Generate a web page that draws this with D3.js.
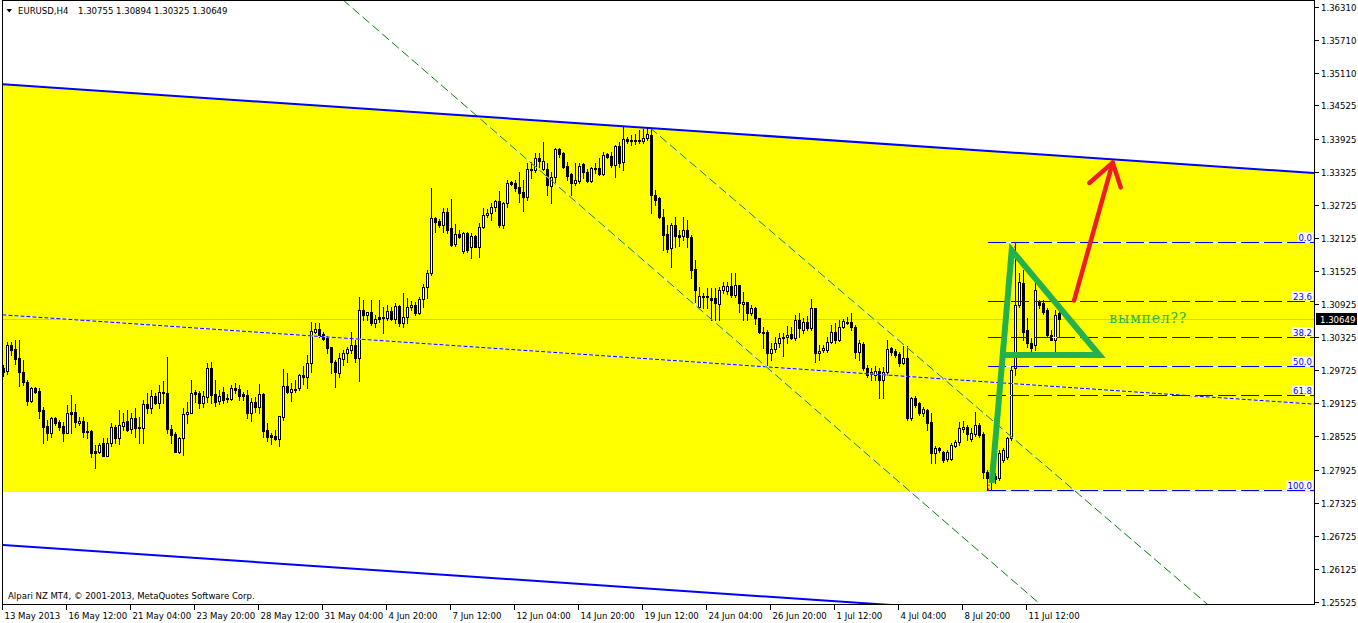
<!DOCTYPE html>
<html><head><meta charset="utf-8">
<script src="https://cdn.jsdelivr.net/npm/d3@7"></script>
<style>
html,body{margin:0;padding:0;background:#fff;}
svg{display:block;}
text{font-family:"DejaVu Sans Condensed","Liberation Sans",Tahoma,sans-serif;font-size:9.5px;}
</style></head><body>
<svg id="c" width="1358" height="623"></svg>
<script>
// ---- data (EURUSD H4) ----
const opens=[
1.2977,1.2971,1.3018,1.3011,1.2995,1.2969,1.2951,1.2917,1.2940,1.2935,
1.2901,1.2872,1.2859,1.2886,1.2879,1.2872,1.2859,1.2897,1.2897,1.2877,
1.2881,1.2862,1.2862,1.2826,1.2824,1.2841,1.2817,1.2841,1.2870,1.2850,
1.2872,1.2881,1.2866,1.2886,1.2870,1.2868,1.2911,1.2904,1.2926,1.2913,
1.2931,1.2931,1.2866,1.2857,1.2824,1.2850,1.2893,1.2895,1.2933,1.2931,
1.2913,1.2924,1.2977,1.2929,1.2917,1.2933,1.2922,1.2920,1.2940,1.2938,
1.2929,1.2928,1.2895,1.2915,1.2906,1.2929,1.2864,1.2855,1.2853,1.2848,
1.2888,1.2944,1.2933,1.2938,1.2940,1.2964,1.2960,1.2986,1.3042,1.3047,
1.3038,1.3031,1.3015,1.2987,1.2968,1.2993,1.3004,1.3009,1.3018,1.2995,
1.3082,1.3073,1.3078,1.3058,1.3069,1.3069,1.3067,1.3080,1.3065,1.3089,
1.3058,1.3069,1.3087,1.3091,1.3076,1.3102,1.3123,1.3149,1.3249,1.3243,
1.3236,1.3259,1.3230,1.3201,1.3220,1.3189,1.3221,1.3196,1.3216,1.3196,
1.3232,1.3254,1.3258,1.3268,1.3279,1.3236,1.3276,1.3314,1.3312,1.3305,
1.3296,1.3287,1.3336,1.3336,1.3357,1.3337,1.3337,1.3307,1.3323,1.3374,
1.3366,1.3343,1.3328,1.3312,1.3316,1.3346,1.3332,1.3316,1.3339,1.3339,
1.3328,1.3365,1.3361,1.3345,1.3379,1.3350,1.3392,1.3390,1.3390,1.3390,
1.3388,1.3394,1.3399,1.3290,1.3285,1.3250,1.3220,1.3194,1.3236,1.3218,
1.3216,1.3227,1.3214,1.3156,1.3087,1.3107,1.3105,1.3104,1.3104,1.3093,
1.3118,1.3116,1.3125,1.3109,1.3127,1.3093,1.3096,1.3076,1.3085,1.3067,
1.3042,1.3042,1.3004,1.3011,1.3022,1.3031,1.3033,1.3038,1.3031,1.3064,
1.3046,1.3060,1.3049,1.3085,1.3004,1.3009,1.3009,1.3024,1.3042,1.3027,
1.3051,1.3060,1.3060,1.3051,1.3006,1.3020,1.2977,1.2966,1.2964,1.2971,
1.2955,1.2969,1.3013,1.3007,1.3002,1.2986,1.2995,1.2886,1.2922,1.2913,
1.2895,1.2901,1.2879,1.2823,1.2832,1.2824,1.2812,1.2812,1.2835,1.2842,
1.2866,1.2870,1.2848,1.2857,1.2873,1.2857,1.2788,1.2774,1.2780,1.2777,
1.2810,1.2815,1.2850,1.2977,1.3091,1.3131,1.3046,1.3022,1.3018,1.3096,
1.3095,1.3082,1.3036,1.3027,1.30755];
const highs=[
1.2982,1.3024,1.3024,1.3027,1.3027,1.2991,1.2955,1.2942,1.2942,1.2940,
1.2906,1.2882,1.2888,1.2888,1.2882,1.2879,1.2910,1.2928,1.2911,1.2888,
1.2888,1.2879,1.2864,1.2837,1.2841,1.2850,1.2850,1.2877,1.2873,1.2901,
1.2895,1.2901,1.2895,1.2904,1.2888,1.2919,1.2931,1.2937,1.2931,1.2946,
1.2953,1.2997,1.2873,1.2861,1.2852,1.2904,1.2915,1.2955,1.2937,1.2935,
1.2935,1.2986,1.2988,1.2955,1.2937,1.2942,1.2929,1.2946,1.2949,1.2946,
1.2933,1.2937,1.2922,1.2924,1.2948,1.2931,1.2877,1.2859,1.2864,1.2890,
1.2975,1.2968,1.2949,1.2955,1.2966,1.2980,1.3000,1.3060,1.3058,1.3058,
1.3042,1.3035,1.3015,1.2991,1.3004,1.3009,1.3015,1.3042,1.3027,1.3105,
1.3100,1.3078,1.3100,1.3073,1.3100,1.3087,1.3091,1.3087,1.3095,1.3091,
1.3113,1.3104,1.3098,1.3096,1.3105,1.3129,1.3154,1.3303,1.3250,1.3247,
1.3267,1.3267,1.3283,1.3238,1.3227,1.3223,1.3223,1.3221,1.3218,1.3240,
1.3267,1.3265,1.3276,1.3281,1.3297,1.3278,1.3317,1.3316,1.3317,1.3332,
1.3317,1.3348,1.3350,1.3366,1.3366,1.3386,1.3348,1.3332,1.3375,1.3375,
1.3368,1.3350,1.3330,1.3348,1.3348,1.3348,1.3337,1.3341,1.3348,1.3357,
1.3368,1.3366,1.3368,1.3381,1.3386,1.3413,1.3395,1.3399,1.3401,1.3408,
1.3410,1.3412,1.3412,1.3299,1.3287,1.3265,1.3236,1.3240,1.3250,1.3227,
1.3250,1.3245,1.3218,1.3172,1.3123,1.3113,1.3122,1.3122,1.3122,1.3123,
1.3133,1.3133,1.3149,1.3149,1.3127,1.3114,1.3096,1.3091,1.3087,1.3067,
1.3051,1.3046,1.3022,1.3033,1.3040,1.3040,1.3053,1.3051,1.3073,1.3076,
1.3067,1.3071,1.3102,1.3085,1.3018,1.3018,1.3033,1.3055,1.3058,1.3064,
1.3065,1.3069,1.3076,1.3055,1.3027,1.3024,1.2982,1.2977,1.2980,1.2977,
1.2978,1.3027,1.3015,1.3011,1.3006,1.3016,1.3016,1.2924,1.2926,1.2915,
1.2906,1.2902,1.2895,1.2835,1.2833,1.2826,1.2828,1.2841,1.2846,1.2879,
1.2881,1.2873,1.2868,1.2897,1.2877,1.2861,1.2792,1.2795,1.2786,1.2828,
1.2832,1.2852,1.2980,1.3205,1.3149,1.3154,1.3067,1.3031,1.3131,1.3100,
1.3100,1.3085,1.3046,1.3082,1.30894];
const lows=[
1.2962,1.2966,1.3000,1.2984,1.2944,1.2946,1.2910,1.2915,1.2931,1.2886,
1.2841,1.2846,1.2852,1.2873,1.2864,1.2844,1.2859,1.2859,1.2870,1.2873,
1.2852,1.2850,1.2815,1.2795,1.2823,1.2817,1.2817,1.2835,1.2841,1.2839,
1.2864,1.2862,1.2859,1.2852,1.2841,1.2841,1.2895,1.2895,1.2911,1.2904,
1.2913,1.2859,1.2841,1.2824,1.2823,1.2819,1.2877,1.2895,1.2915,1.2904,
1.2906,1.2915,1.2913,1.2908,1.2911,1.2913,1.2915,1.2919,1.2931,1.2919,
1.2919,1.2886,1.2881,1.2897,1.2895,1.2852,1.2844,1.2839,1.2846,1.2835,
1.2882,1.2931,1.2917,1.2933,1.2937,1.2948,1.2940,1.2969,1.3040,1.3033,
1.3027,1.3004,1.2968,1.2942,1.2960,1.2982,1.2987,1.3004,1.2987,1.2953,
1.3064,1.3064,1.3055,1.3051,1.3060,1.3040,1.3064,1.3064,1.3058,1.3053,
1.3051,1.3058,1.3082,1.3073,1.3074,1.3087,1.3104,1.3145,1.3223,1.3232,
1.3223,1.3221,1.3198,1.3198,1.3212,1.3185,1.3187,1.3176,1.3196,1.3178,
1.3230,1.3250,1.3245,1.3261,1.3232,1.3230,1.3268,1.3308,1.3297,1.3278,
1.3261,1.3281,1.3321,1.3332,1.3341,1.3336,1.3290,1.3276,1.3314,1.3359,
1.3339,1.3317,1.3290,1.3308,1.3312,1.3321,1.3314,1.3314,1.3330,1.3326,
1.3326,1.3357,1.3341,1.3323,1.3341,1.3336,1.3384,1.3381,1.3383,1.3384,
1.3384,1.3390,1.3258,1.3272,1.3249,1.3191,1.3187,1.3160,1.3196,1.3198,
1.3209,1.3196,1.3140,1.3096,1.3085,1.3085,1.3085,1.3064,1.3064,1.3064,
1.3113,1.3111,1.3105,1.3105,1.3078,1.3064,1.3064,1.3073,1.3056,1.3040,
1.3013,1.2982,1.2991,1.3006,1.3015,1.2998,1.3022,1.3029,1.3027,1.3033,
1.3040,1.3046,1.3046,1.2987,1.2991,1.3006,1.3006,1.3022,1.3022,1.3026,
1.3049,1.3056,1.3046,1.2995,1.2991,1.2973,1.2960,1.2955,1.2955,1.2922,
1.2922,1.2964,1.3000,1.2997,1.2980,1.2984,1.2882,1.2882,1.2906,1.2891,
1.2890,1.2864,1.2805,1.2805,1.2824,1.2806,1.2808,1.2810,1.2833,1.2837,
1.2861,1.2846,1.2844,1.2853,1.2852,1.2777,1.2755,1.2758,1.2768,1.2774,
1.2806,1.2812,1.2846,1.2964,1.3087,1.3027,1.3015,1.3006,1.3009,1.3085,
1.3074,1.3033,1.3027,1.3004,1.30325];
const closes=[
1.2969,1.3018,1.3009,1.2993,1.2969,1.2951,1.2917,1.2940,1.2933,1.2899,
1.2870,1.2859,1.2886,1.2877,1.2870,1.2859,1.2895,1.2893,1.2879,1.2881,
1.2861,1.2861,1.2823,1.2823,1.2837,1.2817,1.2841,1.2870,1.2850,1.2873,
1.2879,1.2864,1.2886,1.2868,1.2868,1.2911,1.2904,1.2926,1.2913,1.2933,
1.2933,1.2866,1.2855,1.2824,1.2850,1.2893,1.2897,1.2931,1.2929,1.2913,
1.2926,1.2977,1.2928,1.2915,1.2926,1.2919,1.2920,1.2940,1.2937,1.2926,
1.2926,1.2895,1.2915,1.2906,1.2929,1.2862,1.2852,1.2852,1.2848,1.2890,
1.2944,1.2933,1.2938,1.2936,1.2964,1.2960,1.2986,1.3044,1.3047,1.3036,
1.3029,1.3013,1.2987,1.2968,1.2995,1.3004,1.3011,1.3018,1.2995,1.3082,
1.3073,1.3078,1.3058,1.3065,1.3065,1.3067,1.3080,1.3065,1.3089,1.3058,
1.3069,1.3087,1.3091,1.3076,1.3102,1.3123,1.3149,1.3249,1.3241,1.3236,
1.3259,1.3227,1.3200,1.3220,1.3214,1.3221,1.3191,1.3216,1.3196,1.3232,
1.3254,1.3258,1.3268,1.3279,1.3236,1.3276,1.3312,1.3310,1.3303,1.3294,
1.3287,1.3337,1.3337,1.3357,1.3352,1.3352,1.3308,1.3323,1.3374,1.3365,
1.3341,1.3325,1.3312,1.3317,1.3343,1.3332,1.3316,1.3339,1.3337,1.3328,
1.3363,1.3359,1.3345,1.3379,1.3348,1.3392,1.3388,1.3388,1.3388,1.3388,
1.3394,1.3401,1.3290,1.3281,1.3250,1.3218,1.3192,1.3236,1.3216,1.3214,
1.3227,1.3214,1.3154,1.3118,1.3107,1.3105,1.3107,1.3100,1.3095,1.3118,
1.3125,1.3125,1.3109,1.3127,1.3095,1.3096,1.3076,1.3085,1.3067,1.3042,
1.3040,1.3004,1.3011,1.3022,1.3031,1.3033,1.3036,1.3031,1.3064,1.3049,
1.3060,1.3049,1.3085,1.3004,1.3007,1.3013,1.3024,1.3042,1.3027,1.3051,
1.3062,1.3058,1.3051,1.3006,1.3022,1.2977,1.2964,1.2969,1.2971,1.2955,
1.2969,1.3011,1.3006,1.3000,1.2986,1.2995,1.2886,1.2922,1.2910,1.2895,
1.2902,1.2877,1.2823,1.2832,1.2828,1.2810,1.2824,1.2837,1.2842,1.2868,
1.2870,1.2857,1.2859,1.2873,1.2855,1.2788,1.2777,1.2780,1.2775,1.2823,
1.2828,1.2850,1.2973,1.3091,1.3133,1.3042,1.3022,1.3013,1.3118,1.3091,
1.3078,1.3036,1.3027,1.3073,1.30649];

const priceTicks=["1.36310","1.35710","1.35110","1.34525","1.33925","1.33325","1.32725","1.32125","1.31525","1.30925","1.30325","1.29725","1.29125","1.28525","1.27925","1.27325","1.26725","1.26125","1.25525"];
const timeLabels=["13 May 2013","16 May 12:00","21 May 04:00","23 May 20:00","28 May 12:00","31 May 04:00","4 Jun 20:00","7 Jun 12:00","12 Jun 04:00","14 Jun 20:00","19 Jun 12:00","24 Jun 04:00","26 Jun 20:00","1 Jul 12:00","4 Jul 04:00","8 Jul 20:00","11 Jul 12:00"];
const timeTickBars=[0,16,32,48,64,80,96,112,128,144,160,176,192,208,224,240,256];

// drawn objects: [barIndex, price]
const upperChannel=[[-0.2,1.3491],[328,1.3330]];
const lowerChannel=[[-0.2,1.2656],[328,1.2495]];
const dottedTrend=[[-0.2,1.3073],[328,1.2911]];
const greenDashA=[[84.9,1.3644],[262,1.2531]];
const greenDashB=[[161.7,1.3412],[304,1.2530]];
const yellowBottom=1.2752;
const fibHigh=1.3205, fibLow=1.2755, fibStartBar=246.2;
const fibLevels=[0,23.6,38.2,50,61.8,100];
const fibNames=["0.0","23.6","38.2","50.0","61.8","100.0"];
const redDotted=[[246.3,1.2755],[253.0,1.3205]];
const pennant=[[247.1,1.2768],[252.1,1.3190],[274.0,1.3000],[249.9,1.3000]];
const arrowShaft=[[267.7,1.3099],[277.35,1.3349]];
const arrowHead=[[271.5,1.3312],[277.35,1.3349],[279.35,1.3304]];
const noteText="вымпел??", notePos=[276.5,1.3058];
const bid=1.30649;
const title="EURUSD,H4", titleValues="1.30755 1.30894 1.30325 1.30649";
const copyright="Alpari NZ MT4, © 2001-2013, MetaQuotes Software Corp.";

// ---- layout ----
const plotL=3, plotR=1314, plotT=1, plotB=604;
const x=d3.scaleLinear().domain([0,264]).range([3.3,1059.3]);
const y=d3.scaleLinear().domain([1.25525,1.36310]).range([602,7]);
const svg=d3.select('#c');
svg.append('defs').append('clipPath').attr('id','clip')
  .append('rect').attr('x',plotL).attr('y',plotT).attr('width',plotR-plotL).attr('height',plotB-plotT);
const plot=svg.append('g').attr('clip-path','url(#clip)');
const ln=d3.line().x(d=>x(d[0])).y(d=>y(d[1]));
const lerp=(pts,b)=>pts[0][1]+(pts[1][1]-pts[0][1])*(b-pts[0][0])/(pts[1][0]-pts[0][0]);

// yellow zone
const bL=x.invert(plotL), bR=x.invert(plotR);
plot.append('path').attr('d',ln([[bL,lerp(upperChannel,bL)],[bR,lerp(upperChannel,bR)],[bR,yellowBottom],[bL,yellowBottom]])+'Z')
  .attr('fill','#ffff00');

// bid line
plot.append('line').attr('x1',plotL).attr('x2',plotR).attr('y1',Math.round(y(bid))+0.5).attr('y2',Math.round(y(bid))+0.5)
  .attr('stroke','#c0c0c0').attr('stroke-width',1);

// candles
const idx=d3.range(opens.length);
const cg=plot.append('g').attr('shape-rendering','crispEdges');
cg.selectAll('line').data(idx).join('line')
  .attr('x1',i=>Math.round(x(i))+0.5).attr('x2',i=>Math.round(x(i))+0.5)
  .attr('y1',i=>Math.round(y(highs[i]))).attr('y2',i=>Math.round(y(lows[i]))+1)
  .attr('stroke','#000').attr('stroke-width',1);
cg.selectAll('rect').data(idx).join('rect')
  .attr('x',i=>Math.round(x(i))-0.5)
  .attr('y',i=>Math.round(Math.min(y(opens[i]),y(closes[i])))+0.5)
  .attr('width',2)
  .attr('height',i=>Math.max(1,Math.round(Math.abs(y(opens[i])-y(closes[i])))))
  .attr('fill',i=>closes[i]>=opens[i]?'#fff':'#000')
  .attr('stroke','#000').attr('stroke-width',1);

function styledLine(pts,color,width,dash){
  if(dash){
    plot.append('path').attr('d',ln(pts)).attr('stroke','#fff').attr('stroke-width',width).attr('fill','none');
  }
  plot.append('path').attr('d',ln(pts)).attr('stroke',color).attr('stroke-width',width).attr('fill','none')
    .attr('stroke-dasharray',dash||null);
}
// dotted trend
styledLine(dottedTrend,'#0000ff',1,'4,2');
// fibonacci
const fibG=plot.append('g');
fibLevels.forEach((lv,k)=>{
  const p=fibHigh-(fibHigh-fibLow)*lv/100;
  const yy=Math.round(y(p))+0.5;
  fibG.append('line').attr('x1',x(fibStartBar)).attr('x2',plotR).attr('y1',yy).attr('y2',yy).attr('stroke','#fff');
  fibG.append('line').attr('x1',x(fibStartBar)).attr('x2',plotR).attr('y1',yy).attr('y2',yy)
    .attr('stroke','#0000ff').attr('stroke-dasharray','18,5');
  const t=fibG.append('text').attr('x',plotR-2).attr('y',yy-2).attr('text-anchor','end').attr('fill','#0000ff').text(fibNames[k]);
  const bb=t.node().getBBox();
  fibG.insert('rect','text:last-child').attr('x',bb.x-1).attr('y',bb.y+1).attr('width',bb.width+2).attr('height',bb.height-2).attr('fill','#fff');
});
// green dashed channel
styledLine(greenDashA,'#008000',1,'9,4');
styledLine(greenDashB,'#008000',1,'9,4');
// blue channel
styledLine(upperChannel,'#0000ff',2,null);
styledLine(lowerChannel,'#0000ff',2,null);
// red dotted
plot.append('path').attr('d',ln(redDotted)).attr('stroke','#ff0000').attr('stroke-dasharray','2,2').attr('fill','none');
// pennant
plot.append('path').attr('d',ln(pennant)).attr('stroke','#22b14c').attr('stroke-width',6)
  .attr('fill','none').attr('stroke-linejoin','miter').attr('stroke-linecap','butt');
// arrow
plot.append('path').attr('d',ln(arrowShaft)).attr('stroke','#ed1c24').attr('stroke-width',4.5).attr('fill','none').attr('stroke-linecap','round');
plot.append('path').attr('d',ln(arrowHead)).attr('stroke','#ed1c24').attr('stroke-width',4.5).attr('fill','none')
  .attr('stroke-linecap','round').attr('stroke-linejoin','round');
// note
plot.append('text').attr('x',x(notePos[0])).attr('y',y(notePos[1]))
  .style('font-family','"DejaVu Serif","Liberation Serif",serif').style('font-size','14px')
  .attr('letter-spacing','0.8').attr('fill','#2db34a').text(noteText);

// frame
svg.append('path').attr('d',`M2.5,0.5H${plotR+0.5}V${plotB+0.5}H2.5Z`).attr('fill','none').attr('stroke','#000').attr('shape-rendering','crispEdges');

// price axis
const ax=svg.append('g').attr('shape-rendering','crispEdges');
priceTicks.forEach(t=>{
  const yy=Math.round(y(+t))+0.5;
  ax.append('line').attr('x1',plotR+0.5).attr('x2',plotR+4.5).attr('y1',yy).attr('y2',yy).attr('stroke','#000');
  svg.append('text').attr('x',plotR+7).attr('y',yy+3.5).attr('fill','#000').text(t);
});
// bid label
const by=Math.round(y(bid));
svg.append('rect').attr('x',plotR+2).attr('y',by-6).attr('width',41).attr('height',12).attr('fill','#000');
svg.append('text').attr('x',plotR+6).attr('y',by+4).attr('fill','#fff').text(d3.format('.5f')(bid));

// time axis
timeTickBars.forEach((b,k)=>{
  const xx=Math.round(x(b))-0.5;
  ax.append('line').attr('x1',xx).attr('x2',xx).attr('y1',plotB+0.5).attr('y2',plotB+5.5).attr('stroke','#000');
  svg.append('text').attr('x',xx+2).attr('y',619).attr('fill','#000').text(timeLabels[k]);
});

// title & copyright
svg.append('path').attr('d','M6.5,9L12,9L9.25,12.5Z').attr('fill','#000');
svg.append('text').attr('x',18).attr('y',14).attr('fill','#000').text(title);
svg.append('text').attr('x',78).attr('y',14).attr('fill','#000').text(titleValues);
svg.append('text').attr('x',8).attr('y',599).attr('fill','#000').text(copyright);
</script>
</body></html>
